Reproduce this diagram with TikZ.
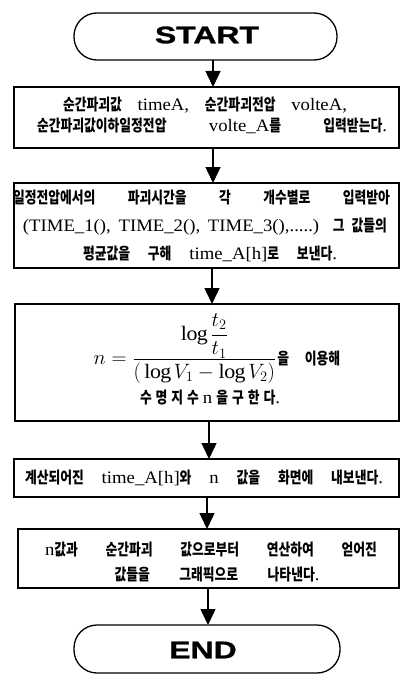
\documentclass[tikz,border=0pt]{standalone}
\usepackage{fontspec}
\setmainfont[FakeStretch=1.07]{Liberation Serif}
\newfontfamily\kr[FakeStretch=0.8]{Noto Sans CJK KR}
\newfontfamily\termfont[FakeStretch=1.33,FakeBold=1.2]{Liberation Sans}
\usetikzlibrary{arrows.meta}
\newcommand{\K}[1]{{\kr\bfseries\fontsize{16}{17}\selectfont #1}}
\begin{document}
\begin{tikzpicture}[x=1pt,y=-1pt,
  every node/.style={inner sep=0pt,outer sep=0pt},
  box/.style={draw,line width=1.3pt,anchor=north west},
  term/.style={draw,line width=1.3pt,rounded corners=23pt,anchor=north west},
  termtxt/.style={font=\termfont\bfseries\fontsize{24}{26}\selectfont},
  txt/.style={font=\fontsize{17.5}{20}\selectfont},
  flow/.style={line width=1.5pt,-{Triangle[width=15pt,length=16pt]}}]
\useasboundingbox (0,0) rectangle (400,674);
% terminals
\node[term,minimum width=263pt,minimum height=47pt] (start) at (74,13) {};
\node[termtxt] (starttxt) at (207,35) {START};
\node[term,minimum width=266pt,minimum height=48pt] (end) at (74,625) {};
\node[termtxt] (endtxt) at (203,650) {END};
% boxes
\node[box,minimum width=385pt,minimum height=61pt] (b1) at (14,87) {};
\node[box,minimum width=385pt,minimum height=85pt] (b2) at (14,183) {};
\node[box,minimum width=384pt,minimum height=117pt] (b3) at (15,304) {};
\node[box,minimum width=385pt,minimum height=38pt] (b4) at (14,459) {};
\node[box,minimum width=381pt,minimum height=59pt] (b5) at (18,529) {};
% texts box1
\node[txt] (t11) at (205,105) {\makebox[284pt][s]{\K{순간파괴값} timeA, \K{순간파괴전압} volteA,}};
\node[txt] (t12) at (212,126) {\makebox[350pt][s]{\K{순간파괴값이하일정전압} volte\_A\K{를} \K{입력받는다}.}};
% box2
\node[txt] (t21) at (201.5,198) {\makebox[377pt][s]{\K{일정전압에서의} \K{파괴시간을} \K{각} \K{개수별로} \K{입력받아}}};
\node[txt] (t22) at (205,227) {\makebox[364pt][s]{(TIME\_1(), TIME\_2(), TIME\_3(),.....) \K{그} \K{값들의}}};
\node[txt] (t23) at (210,254) {\makebox[254pt][s]{\K{평균값을} \K{구해} time\_A[h]\K{로} \K{보낸다}.}};
% box3
\node[txt] (t31) at (217,349) {\fontsize{20.5}{22}\selectfont$n=\displaystyle\frac{\log{\displaystyle\frac{t_2}{t_1}}}{(\,\log V_1-\log V_2)}$\hspace{1pt}\makebox[63pt][s]{\K{을} \K{이용해}}};
\node[txt] (t32) at (210,398) {\makebox[140pt]{\K{수}\hfill\K{명}\hfill\K{지}\hfill\K{수}\hfill n\hfill\K{을}\hfill\K{구}\hfill\K{한}\hfill\K{다}.}};
% box4
\node[txt] (t41) at (204,478) {\makebox[358pt][s]{\K{계산되어진} time\_A[h]\K{와} n \K{값을} \K{화면에} \K{내보낸다}.}};
% box5
\node[txt] (t51) at (211,550) {\makebox[332pt][s]{n\K{값과} \K{순간파괴} \K{값으로부터} \K{연산하여} \K{얻어진}}};
\node[txt] (t52) at (217,575) {\makebox[205pt][s]{\K{값들을} \K{그래픽으로} \K{나타낸다}.}};
% connectors
\draw[flow] (start.south -| 213,0) -- (b1.north -| 213,0);
\draw[flow] (b1.south -| 213,0) -- (b2.north -| 213,0);
\draw[flow] (b2.south -| 212,0) -- (b3.north -| 212,0);
\draw[flow] (b3.south -| 209,0) -- (b4.north -| 209,0);
\draw[flow] (b4.south -| 207,0) -- (b5.north -| 207,0);
\draw[flow] (b5.south -| 208,0) -- (end.north -| 208,0);
\end{tikzpicture}
\end{document}
